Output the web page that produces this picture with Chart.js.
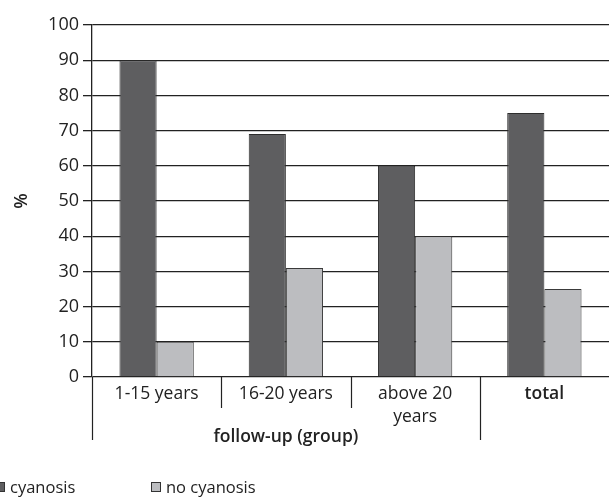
<!DOCTYPE html>
<html>
<head>
<meta charset="utf-8">
<script src="https://cdn.jsdelivr.net/npm/chart.js@4"></script>
<style>
  body { margin: 0; background: #fff; }
  #wrap { width: 609px; height: 498px; }
</style>
</head>
<body>
<div id="wrap"><canvas id="bars"></canvas></div>
<script>
var groups = ['1-15 years', '16-20 years', ['above 20', 'years'], 'total'];
var cyanosis = [90, 69, 60, 75];
var noCyanosis = [10, 31, 40, 25];
var yTicks = [0, 10, 20, 30, 40, 50, 60, 70, 80, 90, 100];
var xTitle = 'follow-up (group)';
var yTitle = '%';

var FONT = 'Open Sans';

// dividers under the x axis, group caption and legend row
var extras = {
    id: 'extras',
    afterDraw: function (chart) {
        var c = chart.ctx, x = chart.scales.x, a = chart.chartArea;
        var n = chart.data.labels.length;
        var edges = [a.left];
        for (var i = 1; i < n; i++) {
            edges.push((x.getPixelForValue(i - 1) + x.getPixelForValue(i)) / 2);
        }
        c.save();
        c.strokeStyle = '#222';
        c.lineWidth = 1.2;
        edges.forEach(function (ex, i) {
            var bottom = (i === 0 || i === n - 1) ? a.bottom + 63 : a.bottom + 31;
            c.beginPath();
            c.moveTo(Math.round(ex) + 0.5, a.bottom);
            c.lineTo(Math.round(ex) + 0.5, bottom);
            c.stroke();
        });
        c.fillStyle = '#222';
        c.font = '600 17.5px "' + FONT + '"';
        c.textAlign = 'center';
        c.textBaseline = 'middle';
        c.fillText(xTitle, (edges[0] + edges[n - 1]) / 2, a.bottom + 60);

        // legend
        c.font = '16.5px "' + FONT + '"';
        c.textAlign = 'left';
        var lx = [-5, 151];
        chart.data.datasets.forEach(function (ds, i) {
            c.fillStyle = ds.backgroundColor;
            c.strokeStyle = '#333';
            c.lineWidth = 1;
            c.fillRect(lx[i], 482, 10, 10);
            c.strokeRect(lx[i] + 0.5, 482.5, 9, 9);
            c.fillStyle = '#222';
            c.fillText(ds.label, lx[i] + 15, 488);
        });
        c.restore();
    }
};

new Chart(document.getElementById('bars'), {
    type: 'bar',
    data: {
        labels: groups,
        datasets: [{
            label: 'cyanosis',
            data: cyanosis,
            backgroundColor: '#5e5e60',
            borderColor: '#2e2e2e',
            borderWidth: 1
        }, {
            label: 'no cyanosis',
            data: noCyanosis,
            backgroundColor: '#bcbdc0',
            borderColor: '#3a3a3a',
            borderWidth: 1
        }]
    },
    options: {
        responsive: true,
        maintainAspectRatio: false,
        animation: false,
        layout: { padding: { top: 25, right: 0, left: 0, bottom: 0 } },
        plugins: { legend: { display: false }, tooltip: { enabled: false } },
        datasets: { bar: { categoryPercentage: 0.575, barPercentage: 1 } },
        scales: {
            x: {
                grid: { display: false },
                border: { display: false },
                ticks: {
                    color: '#222',
                    padding: -3,
                    maxRotation: 0,
                    font: function (ctx) {
                        return { family: FONT, size: 17.5, lineHeight: 1.35, weight: ctx.index === 3 ? '600' : 'normal' };
                    }
                },
                afterFit: function (s) { s.height = 121; }
            },
            y: {
                min: 0,
                max: 100,
                afterBuildTicks: function (s) {
                    s.ticks = yTicks.map(function (v) { return { value: v }; });
                },
                grid: { color: '#222', lineWidth: 1.3, tickLength: 9, drawTicks: true },
                border: { display: true, color: '#222', width: 1.3 },
                ticks: { color: '#222', padding: 4, font: { family: FONT, size: 18 } },
                title: {
                    display: true,
                    text: yTitle,
                    color: '#222',
                    padding: { top: 11, bottom: 0 },
                    font: { family: FONT, size: 18, weight: '600' }
                },
                afterFit: function (s) { s.width = 92; }
            }
        }
    },
    plugins: [extras]
});
</script>
</body>
</html>
